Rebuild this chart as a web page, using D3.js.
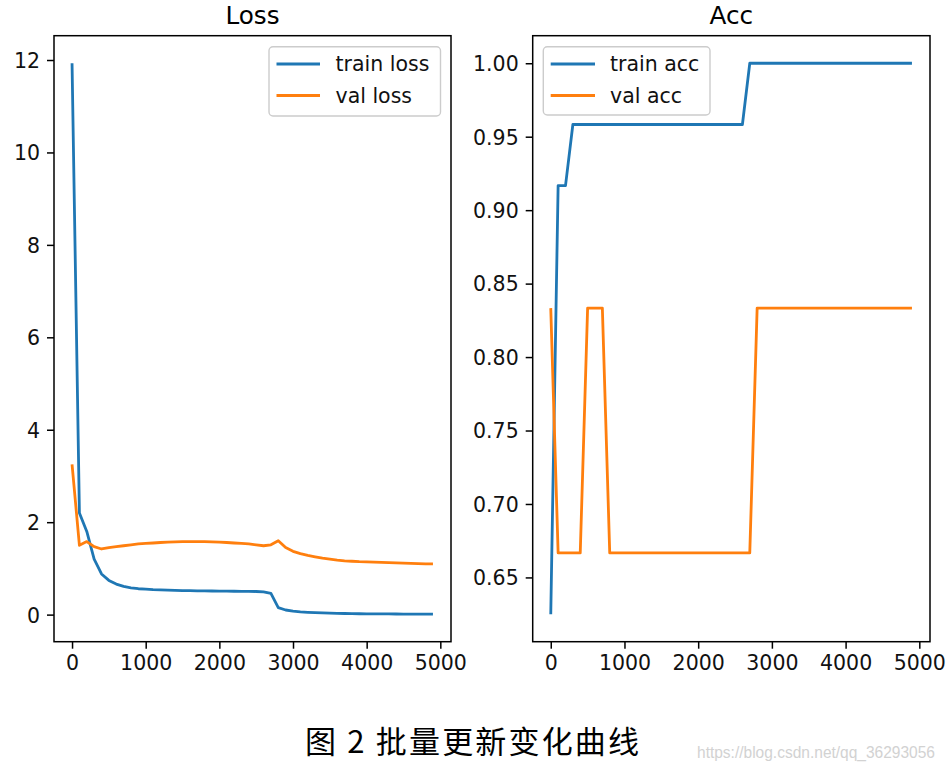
<!DOCTYPE html>
<html><head><meta charset="utf-8">
<script src="https://cdn.jsdelivr.net/npm/d3@7"></script>
<style>body{margin:0;background:#fff} svg{display:block}</style>
</head><body><svg id="c" width="948" height="772"></svg>
<script>
const steps = [0,100,200,300,400,500,600,700,800,900,1000,1100,1200,1300,1400,1500,1600,1700,1800,1900,
  2000,2100,2200,2300,2400,2500,2600,2700,2800,2900,3000,3100,3200,3300,3400,3500,3600,3700,3800,3900,
  4000,4100,4200,4300,4400,4500,4600,4700,4800,4900];
const trainLoss = [11.93,2.2,1.8,1.2,0.88,0.74,0.66,0.61,0.58,0.56,0.55,0.54,0.535,0.53,0.525,0.52,0.518,0.515,0.513,0.511,
  0.51,0.508,0.506,0.505,0.503,0.5,0.49,0.46,0.15,0.1,0.075,0.06,0.05,0.042,0.036,0.031,0.027,0.024,0.021,0.019,
  0.017,0.016,0.015,0.014,0.013,0.012,0.012,0.011,0.011,0.01];
const valLoss = [3.25,1.5,1.58,1.47,1.42,1.45,1.47,1.49,1.51,1.53,1.54,1.55,1.56,1.57,1.575,1.58,1.58,1.58,1.58,1.575,
  1.57,1.56,1.55,1.54,1.53,1.51,1.49,1.51,1.6,1.45,1.37,1.32,1.28,1.25,1.22,1.2,1.18,1.165,1.155,1.145,
  1.14,1.135,1.13,1.125,1.12,1.115,1.11,1.105,1.1,1.1];
const trainAcc = [0.625,0.9167,0.9167,0.9583,0.9583,0.9583,0.9583,0.9583,0.9583,0.9583,0.9583,0.9583,0.9583,0.9583,0.9583,0.9583,0.9583,0.9583,0.9583,0.9583,
  0.9583,0.9583,0.9583,0.9583,0.9583,0.9583,0.9583,1,1,1,1,1,1,1,1,1,1,1,1,1,
  1,1,1,1,1,1,1,1,1,1];
const valAcc = [0.8333,0.6667,0.6667,0.6667,0.6667,0.8333,0.8333,0.8333,0.6667,0.6667,0.6667,0.6667,0.6667,0.6667,0.6667,0.6667,0.6667,0.6667,0.6667,0.6667,
  0.6667,0.6667,0.6667,0.6667,0.6667,0.6667,0.6667,0.6667,0.8333,0.8333,0.8333,0.8333,0.8333,0.8333,0.8333,0.8333,0.8333,0.8333,0.8333,0.8333,
  0.8333,0.8333,0.8333,0.8333,0.8333,0.8333,0.8333,0.8333,0.8333,0.8333];
const xTicks = [0,1000,2000,3000,4000,5000];
const lossTicks = [0,2,4,6,8,10,12];
const accTicks = [0.65,0.70,0.75,0.80,0.85,0.90,0.95,1.00];
const titles = ["Loss","Acc"];
const lossLabels = ["train loss","val loss"];
const accLabels = ["train acc","val acc"];
const colors = ["#1f77b4","#ff7f0e"];
const caption = "图 2 批量更新变化曲线";
const watermark = "https://blog.csdn.net/qq_36293056";

const svg = d3.select("#c");
const FONT = "DejaVu Sans";
const axTop = 35.7, axBottom = 641.7;

function pad(ext){ const r = ext[1]-ext[0]; return [ext[0]-0.05*r, ext[1]+0.05*r]; }

function panel(cfg){
  const {left,right,series,labels,yTicks,yFmt,title,legendBox,handleX,textX} = cfg;
  const g = svg.append("g");
  const x = d3.scaleLinear().domain(pad(d3.extent(steps))).range([left,right]);
  const allY = series.flat();
  const y = d3.scaleLinear().domain(pad(d3.extent(allY))).range([axBottom,axTop]);

  const line = d3.line().x((d,i)=>x(steps[i])).y(d=>y(d));
  series.forEach((s,i)=>{
    g.append("path").datum(s).attr("d",line).attr("fill","none")
     .attr("stroke",colors[i]).attr("stroke-width",2.8).attr("stroke-linejoin","round").attr("stroke-linecap","butt");
  });

  const ax = g.append("g").attr("transform",`translate(0,${axBottom})`)
    .call(d3.axisBottom(x).tickValues(xTicks).tickFormat(d3.format("d")).tickSize(7).tickPadding(7).tickSizeOuter(0));
  const ay = g.append("g").attr("transform",`translate(${left},0)`)
    .call(d3.axisLeft(y).tickValues(yTicks).tickFormat(yFmt).tickSize(7).tickPadding(7).tickSizeOuter(0));
  [ax,ay].forEach(a=>{
    a.select(".domain").remove();
    a.selectAll(".tick line").attr("stroke","#000").attr("stroke-width",1.5);
    a.selectAll(".tick text").attr("font-family",FONT).attr("font-size","20.5px").attr("fill","#111");
  });
  ax.selectAll(".tick text").attr("dy","0.71em");
  ay.selectAll(".tick text").attr("dy","0.36em");

  g.append("rect").attr("x",left).attr("y",axTop).attr("width",right-left).attr("height",axBottom-axTop)
   .attr("fill","none").attr("stroke","#000").attr("stroke-width",1.5);

  g.append("text").attr("x",(left+right)/2).attr("y",23.5).attr("text-anchor","middle")
   .attr("font-family",FONT).attr("font-size","24.7px").attr("fill","#000").text(title);

  g.append("rect").attr("x",legendBox[0]).attr("y",legendBox[1]).attr("width",legendBox[2]).attr("height",legendBox[3])
   .attr("rx",4).attr("fill","#fff").attr("fill-opacity",0.8).attr("stroke","#cccccc").attr("stroke-width",1.4);
  const rows = [64,95.5];
  labels.forEach((lab,i)=>{
    g.append("line").attr("x1",handleX[0]).attr("x2",handleX[1]).attr("y1",rows[i]).attr("y2",rows[i])
     .attr("stroke",colors[i]).attr("stroke-width",2.8);
    g.append("text").attr("x",textX).attr("y",rows[i]+7).attr("font-family",FONT).attr("font-size","20.5px")
     .attr("fill","#111").text(lab);
  });
}

panel({left:54,right:451,series:[trainLoss,valLoss],labels:lossLabels,yTicks:lossTicks,yFmt:d3.format("d"),
  title:titles[0],legendBox:[269,46.7,171.5,69.3],handleX:[276.5,320],textX:335.5});
panel({left:532.7,right:930,series:[trainAcc,valAcc],labels:accLabels,yTicks:accTicks,yFmt:d3.format(".2f"),
  title:titles[1],legendBox:[543.3,46.7,166.7,68.3],handleX:[550.7,595],textX:610});

svg.append("text").attr("x",305).attr("y",753).attr("font-family","Noto Sans CJK SC").attr("font-size","31px")
  .attr("fill","#000").attr("textLength",334).attr("lengthAdjust","spacing").text(caption);
svg.append("text").attr("x",697).attr("y",758).attr("font-family","Liberation Sans Narrow, Liberation Sans, sans-serif")
  .attr("font-size","16px").attr("fill","#d2d2d2").attr("textLength",238).attr("lengthAdjust","spacingAndGlyphs").text(watermark);
</script></body></html>
